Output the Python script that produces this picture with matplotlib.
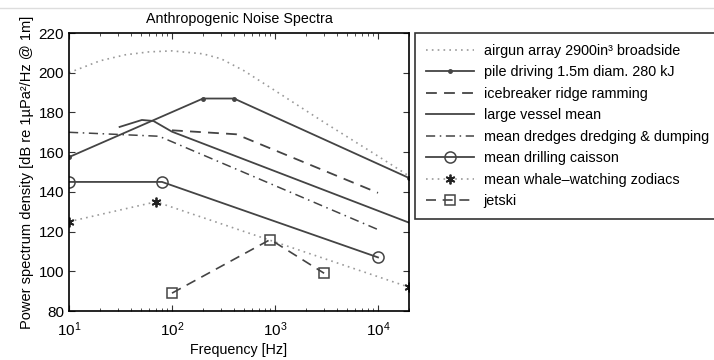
import matplotlib
matplotlib.use("Agg")
import matplotlib.pyplot as plt
from matplotlib.lines import Line2D
from matplotlib.ticker import LogLocator, NullFormatter

plt.rcParams['font.family'] = ['Liberation Sans', 'DejaVu Sans']
plt.rcParams['mathtext.fontset'] = 'custom'
plt.rcParams['mathtext.rm'] = 'Liberation Sans'

# --- data ---
airgun_f = [10, 20, 35, 60, 100, 200, 300, 500, 1000, 3000, 10000, 20000]
airgun_v = [200, 206, 209, 210.5, 211, 209.5, 207, 201, 191, 175, 158, 148]

pile_f = [10, 200, 400, 20000]
pile_v = [157.5, 187, 187, 147]

ice_f = [100, 420, 10000]
ice_v = [171, 169, 139.5]

vessel_f = [31, 51, 66, 100, 20000]
vessel_v = [172.7, 176.2, 175.7, 170.3, 124.5]

dredge_f = [10, 75, 10000]
dredge_v = [170, 168, 121]

caisson_f = [10, 80, 10000]
caisson_v = [145, 145, 107]

whale_f = [10, 70, 20000]
whale_v = [125, 135, 92]

jetski_f = [100, 900, 3000]
jetski_v = [89, 116, 99]

labels = ["airgun array 2900in³ broadside",
          "pile driving 1.5m diam. 280 kJ",
          "icebreaker ridge ramming",
          "large vessel mean",
          "mean dredges dredging & dumping",
          "mean drilling caisson",
          "mean whale\u2013watching zodiacs",
          "jetski"]

fig = plt.figure(figsize=(7.14, 3.6), dpi=100)
ax = fig.add_axes([69/714, 1-311/360, (409-69)/714, (311-33)/360])

dark = '#444444'
light = '#9a9a9a'

ax.plot(airgun_f, airgun_v, linestyle=(0, (1, 2.5)), color=light, lw=1.2, label=labels[0])
ax.plot(pile_f, pile_v, '-', color=dark, lw=1.3, marker='.', ms=5, label=labels[1])
ax.plot(ice_f, ice_v, linestyle=(0, (6, 4)), color=dark, lw=1.3, label=labels[2])
ax.plot(vessel_f, vessel_v, '-', color=dark, lw=1.3, label=labels[3])
ax.plot(dredge_f, dredge_v, linestyle=(0, (6, 3, 1, 3)), color=dark, lw=1.1, label=labels[4])
ax.plot(caisson_f, caisson_v, '-', color=dark, lw=1.3, marker='o', ms=8,
        mfc='none', mec=dark, mew=1.1, label=labels[5])
ax.plot(whale_f, whale_v, linestyle=(0, (1, 2.5)), color=light, lw=1.2, marker=(6, 2, 0), ms=7,
        mfc='#222222', mec='#222222', mew=1.3, label=labels[6])
ax.plot(jetski_f, jetski_v, linestyle=(0, (6, 4)), color=dark, lw=1.2, marker='s', ms=7,
        mfc='none', mec=dark, mew=1.1, label=labels[7])

ax.set_xscale('log')
ax.set_xlim(10, 20000)
ax.set_ylim(80, 220)
ax.set_yticks(range(80, 221, 20))
ax.xaxis.set_major_locator(LogLocator(base=10, numticks=10))
ax.xaxis.set_minor_locator(LogLocator(base=10, subs=range(2, 10), numticks=20))
ax.xaxis.set_minor_formatter(NullFormatter())
ax.tick_params(which='both', direction='in', top=True, right=True, labelsize=11, color='#333333')
ax.tick_params(which='major', length=4)
ax.tick_params(which='minor', length=2)
ax.tick_params(axis='x', which='major', pad=7)
for s in ax.spines.values():
    s.set_linewidth(1.2)

ax.set_title("Anthropogenic Noise Spectra", fontsize=10.3, pad=7)
ax.set_xlabel("Frequency [Hz]", fontsize=10.3, labelpad=3)
ax.set_ylabel("Power spectrum density [dB re 1µPa²/Hz @ 1m]", fontsize=10.5, labelpad=3)

leg = ax.legend(loc='upper left', bbox_to_anchor=(415/714, 1-33/360),
                bbox_transform=fig.transFigure, borderaxespad=0,
                fontsize=10.4, handlelength=3.3, handletextpad=0.7,
                labelspacing=0.52, borderpad=0.75, fancybox=False, frameon=True)
leg.get_frame().set_edgecolor('black')
leg.get_frame().set_linewidth(1.2)

fig.add_artist(Line2D([0, 1], [1-8/360, 1-8/360], color='#dddddd', lw=1,
                      transform=fig.transFigure))

fig.savefig("out.png", dpi=100)
